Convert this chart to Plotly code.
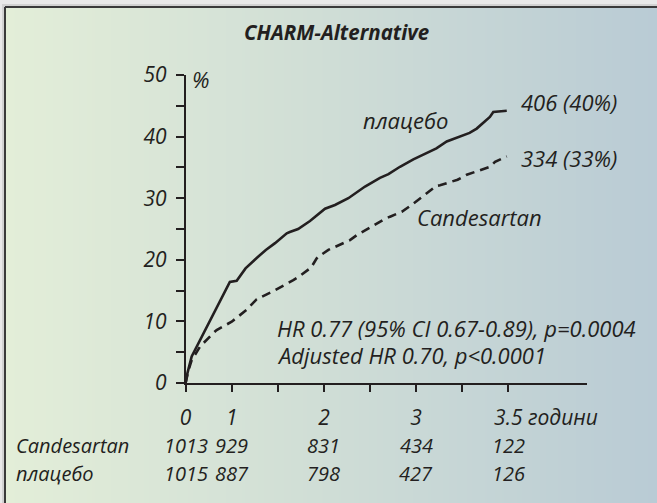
import plotly.graph_objects as go

# ---------------- data ----------------
placebo_t = [0, 0.02, 0.066, 0.138, 0.229, 0.337, 0.48, 0.554, 0.65, 0.771, 0.87, 0.97, 1.05, 1.097,
             1.13, 1.22, 1.349, 1.43, 1.512, 1.62, 1.765, 1.946, 2.108, 2.2, 2.325, 2.47, 2.6, 2.72,
             2.832, 3.0, 3.08, 3.157, 3.266, 3.30, 3.337, 3.40, 3.483]
placebo_v = [0, 1.6, 4.3, 6.4, 9.1, 12.4, 16.4, 16.6, 18.6, 20.3, 21.6, 22.7, 23.8, 24.3,
             24.5, 25.0, 26.3, 27.3, 28.3, 28.9, 30.0, 31.9, 33.3, 33.9, 35.1, 36.3, 37.2, 38.1,
             39.2, 40.2, 40.6, 41.3, 42.8, 43.2, 44.0, 44.1, 44.2]

cand_t = [0, 0.03, 0.066, 0.156, 0.30, 0.337, 0.5, 0.663, 0.771, 0.951, 1.168, 1.222, 1.349, 1.368,
          1.42, 1.44, 1.548, 1.729, 1.783, 1.856, 1.946, 2.144, 2.217, 2.344, 2.45, 2.615, 2.72,
          2.759, 2.95, 3.049, 3.193, 3.30, 3.356, 3.483]
cand_v = [0, 2.0, 3.7, 5.9, 8.1, 8.6, 9.95, 11.9, 13.6, 14.9, 16.7, 17.2, 18.6, 18.9,
          20.2, 20.5, 21.6, 22.9, 23.2, 24.0, 24.8, 26.5, 27.0, 27.8, 28.9, 30.8, 32.0,
          32.1, 33.0, 33.8, 34.6, 35.1, 35.9, 36.8]

x_tick_vals = [0, 0.5, 1.0, 1.5, 2.0, 2.5, 3.0, 3.5]
x_tick_text = ['0', '1', '', '2', '', '3', '', '3.5']
y_tick_vals = [0, 5, 10, 15, 20, 25, 30, 35, 40, 45, 50]
y_tick_text = ['0', '', '10', '', '20', '', '30', '', '40', '', '50']

risk_x = [0, 0.5, 1.5, 2.5, 3.5]
cand_n = [1013, 929, 831, 434, 122]
placebo_n = [1015, 887, 798, 427, 126]
row_names = ['Candesartan', 'плацебо']

title_text = 'CHARM-Alternative'
time_unit = 'години'
placebo_label = 'плацебо'
cand_label = 'Candesartan'
placebo_end = '406 (40%)'
cand_end = '334 (33%)'
hr_lines = ['HR 0.77 (95% CI 0.67-0.89), p=0.0004', 'Adjusted HR 0.70, p<0.0001']

# ---------------- style ----------------
W, H = 657, 503
INK = '#231f20'
FONT = 'Open Sans'
FS = 22        # annotation text
FS_TICK = 21   # axis tick labels
FS_TAB = 20    # numbers-at-risk table

fig = go.Figure()

# background gradient panel (drawn on hidden axes x/y, below the chart axes x2/y2)
fig.add_trace(go.Heatmap(
    z=[[0, 1]], x=[0, 1], y=[0], zsmooth='best', showscale=False, hoverinfo='skip',
    colorscale=[[0, '#e3eed8'], [0.5, '#cfddd6'], [1, '#b9cbd5']],
    xaxis='x', yaxis='y'))

fig.add_trace(go.Scatter(x=placebo_t, y=placebo_v, mode='lines', xaxis='x2', yaxis='y2',
                         line=dict(color=INK, width=2.6), name=placebo_label, showlegend=False))
fig.add_trace(go.Scatter(x=cand_t, y=cand_v, mode='lines', xaxis='x2', yaxis='y2',
                         line=dict(color=INK, width=2.6, dash='9px,6px'), name=cand_label,
                         showlegend=False))

x0px, x1px = 185.6, 586.7
y0px, y50px = 383.0, 75.0
xmax = 4.35

fig.update_layout(
    width=W, height=H, margin=dict(l=0, r=0, t=0, b=0, pad=0, autoexpand=False),
    paper_bgcolor='#e9e9e9', plot_bgcolor='rgba(0,0,0,0)',
    font=dict(family=FONT, size=FS, color=INK, style='italic'),
    showlegend=False,
    xaxis=dict(domain=[5 / W, 1], range=[0, 1], visible=False, fixedrange=True),
    yaxis=dict(domain=[0, 1 - 7 / H], range=[-0.5, 0.5], visible=False, fixedrange=True),
    xaxis2=dict(domain=[x0px / W, x1px / W], range=[0, xmax], anchor='y2',
                showline=True, linecolor=INK, linewidth=1.6, showgrid=False, zeroline=False,
                ticks='outside', ticklen=7, tickwidth=1.5, tickcolor=INK,
                tickvals=x_tick_vals, ticktext=x_tick_text, ticklabelstandoff=8,
                tickfont=dict(family=FONT, size=FS_TICK, color=INK, style='italic')),
    yaxis2=dict(domain=[1 - y0px / H, 1 - y50px / H], range=[0, 50], anchor='x2',
                showline=True, linecolor=INK, linewidth=1.6, showgrid=False, zeroline=False,
                ticks='outside', ticklen=8, tickwidth=1.5, tickcolor=INK,
                tickvals=y_tick_vals, ticktext=y_tick_text, ticklabelstandoff=5,
                tickfont=dict(family=FONT, size=FS_TICK, color=INK, style='italic')),
)

# frame border with soft shadow
fig.add_shape(type='rect', xref='paper', yref='paper', x0=2 / W, x1=5 / W, y0=0, y1=1 - 4 / H,
              line=dict(width=0), fillcolor='#d2d2d2', layer='below')
fig.add_shape(type='rect', xref='paper', yref='paper', x0=2 / W, x1=1, y0=1 - 7 / H, y1=1 - 4 / H,
              line=dict(width=0), fillcolor='#d2d2d2', layer='below')
fig.add_shape(type='line', xref='paper', yref='paper', x0=5 / W, x1=5 / W, y0=0, y1=1 - 7 / H,
              line=dict(color='#3a3a3a', width=2))
fig.add_shape(type='line', xref='paper', yref='paper', x0=5 / W, x1=1, y0=1 - 7 / H, y1=1 - 7 / H,
              line=dict(color='#3a3a3a', width=2))


def px2t(px):
    return (px - x0px) / (x1px - x0px) * xmax


def py2v(py):
    return (y0px - py) / (y0px - y50px) * 50


def ann(text, x, y, xanchor='left', xref='x2', yref='y2', size=FS, **kw):
    fig.add_annotation(text=text, x=x, y=y, xref=xref, yref=yref, xanchor=xanchor,
                       yanchor='middle', showarrow=False,
                       font=dict(family=FONT, size=size, color=INK, style='italic'), **kw)


# title
fig.add_annotation(text=title_text, x=336 / W, y=1 - 32 / H, xref='paper', yref='paper',
                   xanchor='center', yanchor='middle', showarrow=False,
                   font=dict(family=FONT, size=20.5, color=INK, style='italic', weight='bold'))

ann('%', px2t(190), py2v(79))
ann(placebo_label, px2t(361), py2v(120))
ann(placebo_end, px2t(519), py2v(102))
ann(cand_end, px2t(519), py2v(158))
ann(cand_label, px2t(415), py2v(217))
ann(hr_lines[0], px2t(275), py2v(328))
ann(hr_lines[1], px2t(275), py2v(355))

# time unit next to the last tick label (below the axis -> paper y)
ann(time_unit, px2t(526), 1 - 417 / H, yref='paper', size=FS_TICK)

# numbers at risk
row_y = [1 - 445 / H, 1 - 473 / H]
ann(row_names[0], 14 / W, row_y[0], xref='paper', yref='paper', size=FS_TAB)
ann(row_names[1], 14 / W, row_y[1], xref='paper', yref='paper', size=FS_TAB)
for xv, n in zip(risk_x, cand_n):
    ann(str(n), xv, row_y[0], xanchor='center', yref='paper', size=FS_TAB)
for xv, n in zip(risk_x, placebo_n):
    ann(str(n), xv, row_y[1], xanchor='center', yref='paper', size=FS_TAB)

fig.write_html('out.html', config={'displayModeBar': False},
               post_script="document.body.style.margin='0';document.body.style.overflow='hidden';")
